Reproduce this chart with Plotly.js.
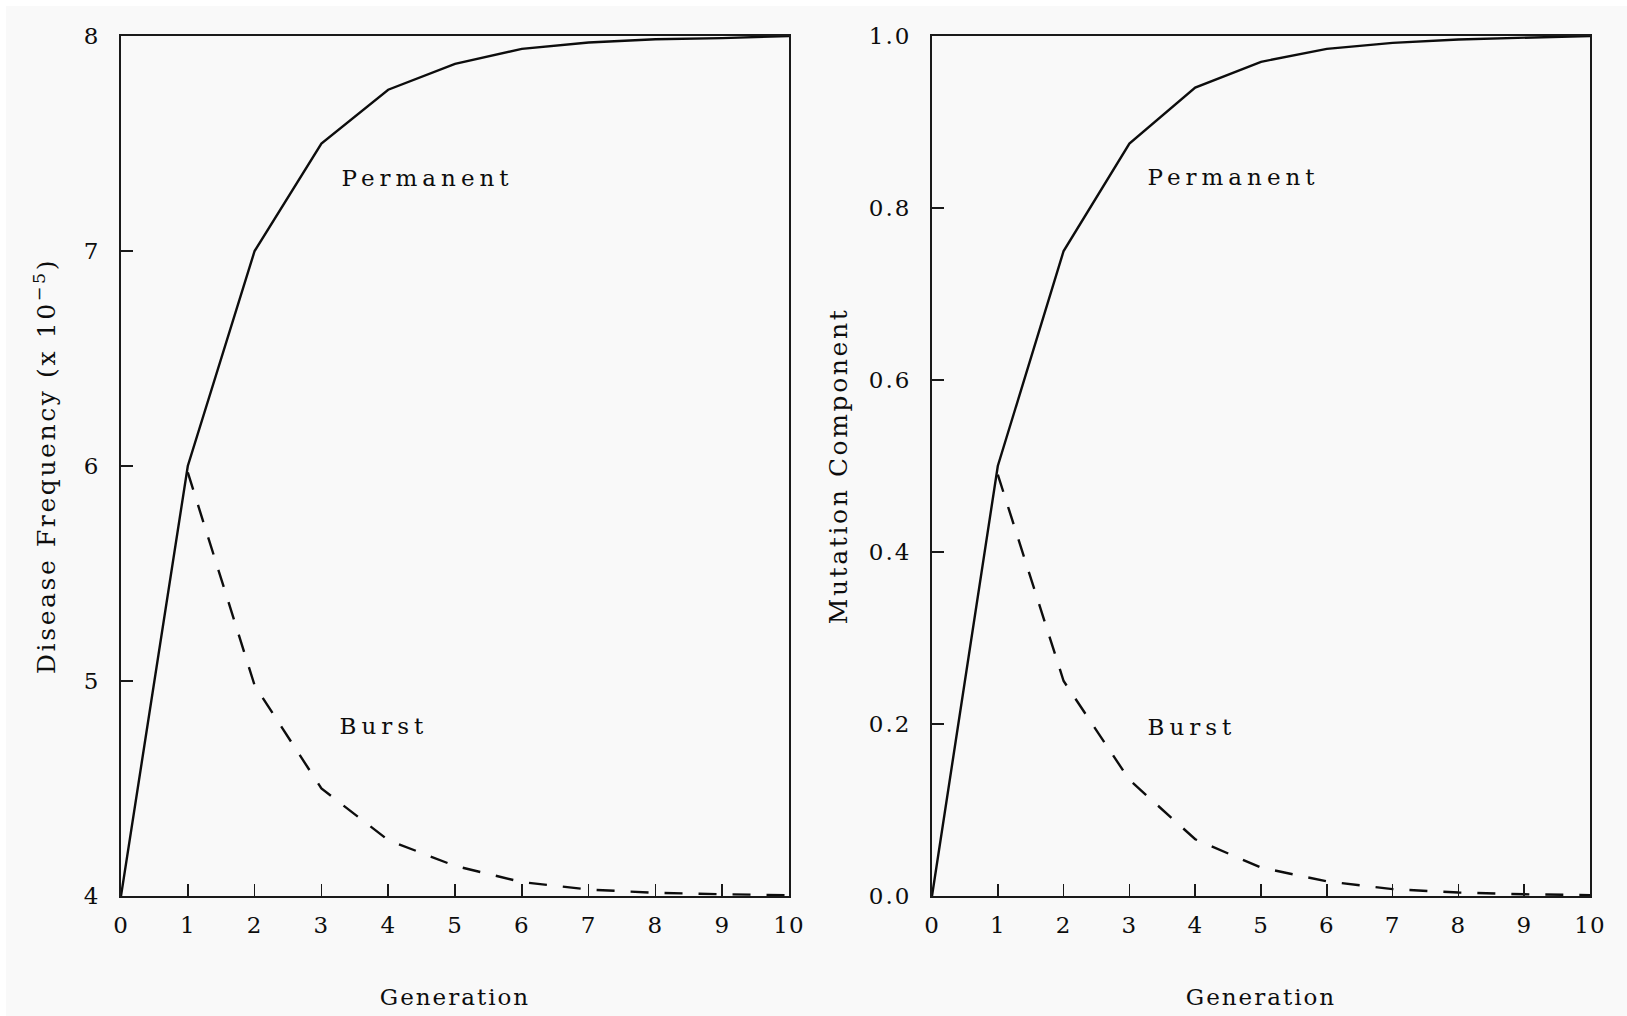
<!DOCTYPE html>
<html>
<head>
<meta charset="utf-8">
<script src="https://cdn.plot.ly/plotly-3.0.1.min.js"></script>
<style>
  html, body { margin: 0; padding: 0; background: #ffffff; }
  #chart { position: absolute; left: 6px; top: 6px; width: 1621px; height: 1010px; }
  #chart .annotation-text { letter-spacing: 5px; }
  #chart .xtick text, #chart .x2tick text { letter-spacing: 1px; }
  #chart .ytick text, #chart .y2tick text { letter-spacing: 2px; }
  #chart .g-xtitle text, #chart .g-x2title text { letter-spacing: 2px; }
  #chart .g-ytitle text, #chart .g-y2title text { letter-spacing: 2.6px; }
</style>
</head>
<body>
<div id="chart"></div>
<script>
// ---- data ----
const generations = [0, 1, 2, 3, 4, 5, 6, 7, 8, 9, 10];
const burstGenerations = [1, 2, 3, 4, 5, 6, 7, 8, 9, 10];

const freqPermanent = [4.0, 6.0, 7.0, 7.5, 7.75, 7.87, 7.94, 7.97, 7.985, 7.99, 8.0];
const freqBurst = [5.97, 4.98, 4.5, 4.26, 4.14, 4.065, 4.03, 4.015, 4.008, 4.004];

const mutPermanent = [0.0, 0.5, 0.75, 0.875, 0.94, 0.97, 0.985, 0.992, 0.996, 0.998, 1.0];
const mutBurst = [0.49, 0.25, 0.135, 0.066, 0.033, 0.017, 0.008, 0.004, 0.002, 0.001];

const xTickVals = [0, 1, 2, 3, 4, 5, 6, 7, 8, 9, 10];
const freqTickVals = [4, 5, 6, 7, 8];
const mutTickVals = [0.0, 0.2, 0.4, 0.6, 0.8, 1.0];

const leftYTitle = 'Disease Frequency (x 10<sup>\u22125</sup>)';
const rightYTitle = 'Mutation Component';
const xTitle = 'Generation';
const labelPermanent = 'Permanent';
const labelBurst = 'Burst';

// ---- styling ----
const FONT = '"DejaVu Serif", "Liberation Serif", serif';
const INK = '#0d0d0d';
const solid = { color: INK, width: 2.4 };
const dashed = { color: INK, width: 2.4, dash: '18px,16px' };

const traces = [
  { x: generations, y: freqPermanent, type: 'scatter', mode: 'lines', line: solid, xaxis: 'x', yaxis: 'y', name: labelPermanent },
  { x: burstGenerations, y: freqBurst, type: 'scatter', mode: 'lines', line: dashed, xaxis: 'x', yaxis: 'y', name: labelBurst },
  { x: generations, y: mutPermanent, type: 'scatter', mode: 'lines', line: solid, xaxis: 'x2', yaxis: 'y2', name: labelPermanent },
  { x: burstGenerations, y: mutBurst, type: 'scatter', mode: 'lines', line: dashed, xaxis: 'x2', yaxis: 'y2', name: labelBurst }
];

const axisCommon = {
  showgrid: false,
  zeroline: false,
  showline: true,
  mirror: true,
  linecolor: '#1a1a1a',
  linewidth: 2,
  ticks: 'inside',
  ticklen: 12,
  tickwidth: 1.5,
  tickcolor: '#1a1a1a',
  tickfont: { family: FONT, size: 23, color: INK },
  fixedrange: true
};

function xAxis(domain, anchor) {
  return Object.assign({}, axisCommon, {
    domain: domain,
    anchor: anchor,
    range: [0, 10],
    tickmode: 'array',
    tickvals: xTickVals,
    ticktext: xTickVals.map(String),
    ticklabelstandoff: 7,
    title: { text: xTitle, font: { family: FONT, size: 23, color: INK }, standoff: 52 }
  });
}

const layout = {
  width: 1621,
  height: 1010,
  margin: { l: 115, r: 37, t: 30, b: 120 },
  paper_bgcolor: '#f9f9f9',
  plot_bgcolor: '#f9f9f9',
  showlegend: false,
  xaxis: xAxis([0, 0.45473], 'y'),
  xaxis2: xAxis([0.55208, 1], 'y2'),
  yaxis: Object.assign({}, axisCommon, {
    domain: [0, 1],
    anchor: 'x',
    range: [4, 8],
    tickmode: 'array',
    tickvals: freqTickVals,
    ticktext: freqTickVals.map(String),
    ticklabelstandoff: 14,
    title: { text: leftYTitle, font: { family: FONT, size: 25, color: INK }, standoff: 23 }
  }),
  yaxis2: Object.assign({}, axisCommon, {
    domain: [0, 1],
    anchor: 'x2',
    range: [0, 1],
    tickmode: 'array',
    tickvals: mutTickVals,
    tickformat: '.1f',
    ticklabelstandoff: 14,
    title: { text: rightYTitle, font: { family: FONT, size: 25, color: INK }, standoff: 20 }
  }),
  annotations: [
    { xref: 'x', yref: 'y', x: 4.59, y: 7.34, xanchor: 'center', yanchor: 'middle', text: labelPermanent, showarrow: false, font: { family: FONT, size: 23, color: INK } },
    { xref: 'x', yref: 'y', x: 3.94, y: 4.79, xanchor: 'center', yanchor: 'middle', text: labelBurst, showarrow: false, font: { family: FONT, size: 23, color: INK } },
    { xref: 'x2', yref: 'y2', x: 4.585, y: 0.836, xanchor: 'center', yanchor: 'middle', text: labelPermanent, showarrow: false, font: { family: FONT, size: 23, color: INK } },
    { xref: 'x2', yref: 'y2', x: 3.955, y: 0.197, xanchor: 'center', yanchor: 'middle', text: labelBurst, showarrow: false, font: { family: FONT, size: 23, color: INK } }
  ]
};

Plotly.newPlot('chart', traces, layout, { displayModeBar: false, staticPlot: true });
</script>
</body>
</html>
